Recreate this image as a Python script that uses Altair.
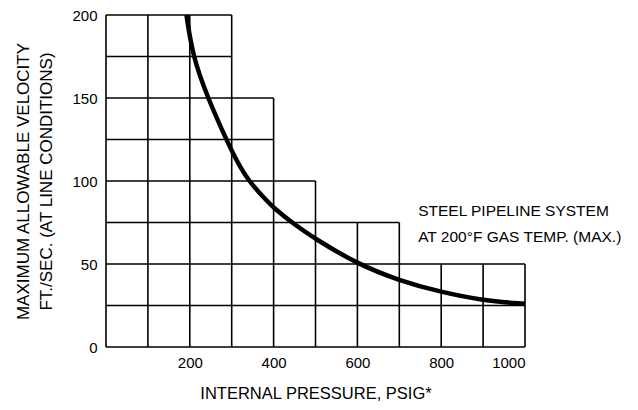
import altair as alt
import pandas as pd

# Curve: maximum allowable velocity vs internal pressure
pressure = [192, 207, 243, 287, 312, 340, 384, 400, 443, 500, 600, 700, 800, 900, 1000]
velocity = [200, 175, 150, 125, 112, 100, 88, 84, 75, 65, 50, 40, 33, 28, 26]

# Stepped grid: horizontal lines (y value, x extent) and vertical lines (x value, y extent)
h_lines_y = [0, 25, 50, 75, 100, 125, 150, 175, 200]
h_lines_end = [1000, 1000, 1000, 700, 500, 400, 400, 300, 300]
v_lines_x = [0, 100, 200, 300, 400, 500, 600, 700, 800, 900, 1000]
v_lines_end = [200, 200, 200, 200, 150, 100, 75, 75, 50, 50, 50]

x_ticks = [200, 400, 600, 800, 1000]
y_ticks = [0, 50, 100, 150, 200]

note_lines = ["STEEL PIPELINE SYSTEM", "AT 200°F GAS TEMP. (MAX.)"]
note_x = [745, 745]
note_y = [82, 66]

FONT = "Liberation Sans"

curve_df = pd.DataFrame({"p": pressure, "v": velocity})
h_df = pd.DataFrame({"y": h_lines_y, "x0": [0] * len(h_lines_y), "x1": h_lines_end})
v_df = pd.DataFrame({"x": v_lines_x, "y0": [0] * len(v_lines_x), "y1": v_lines_end})
note_df = pd.DataFrame({"x": note_x, "y": note_y, "t": note_lines})

xscale = alt.Scale(domain=[0, 1000], nice=False, zero=False)
yscale = alt.Scale(domain=[0, 200], nice=False, zero=False)

xaxis = alt.Axis(
    title="INTERNAL PRESSURE, PSIG*", values=x_ticks, format="d", domain=False,
    ticks=False, grid=False, labelFont=FONT, labelFontSize=15, labelColor="black",
    labelPadding=8, titleFont=FONT, titleFontSize=16.5, titleFontWeight="normal",
    titleColor="black", titlePadding=15,
)
yaxis = alt.Axis(
    title=["MAXIMUM ALLOWABLE VELOCITY", "FT./SEC. (AT LINE CONDITIONS)"],
    values=y_ticks, format="d", domain=False, ticks=False, grid=False,
    labelFont=FONT, labelFontSize=15, labelColor="black", labelPadding=9,
    titleFont=FONT, titleFontSize=17, titleFontWeight="normal",
    titleColor="black", titlePadding=16, titleLineHeight=23,
)

hrules = alt.Chart(h_df).mark_rule(color="black", strokeWidth=1.6).encode(
    x=alt.X("x0:Q", scale=xscale, axis=xaxis),
    x2="x1:Q",
    y=alt.Y("y:Q", scale=yscale, axis=yaxis),
)
vrules = alt.Chart(v_df).mark_rule(color="black", strokeWidth=1.6).encode(
    x=alt.X("x:Q", scale=xscale, axis=xaxis),
    y=alt.Y("y0:Q", scale=yscale, axis=yaxis),
    y2="y1:Q",
)
curve = alt.Chart(curve_df).mark_line(
    color="black", strokeWidth=4.5, interpolate="basis"
).encode(
    x=alt.X("p:Q", scale=xscale, axis=xaxis),
    y=alt.Y("v:Q", scale=yscale, axis=yaxis),
)
notes = alt.Chart(note_df).mark_text(
    align="left", baseline="middle", font=FONT, fontSize=15.5, color="black"
).encode(
    x=alt.X("x:Q", scale=xscale, axis=xaxis),
    y=alt.Y("y:Q", scale=yscale, axis=yaxis),
    text="t:N",
)

chart = alt.layer(hrules, vrules, curve, notes).properties(
    width=419,
    height=332,
    background="white",
    autosize=alt.AutoSizeParams(type="none"),
    padding={"left": 98, "top": 7, "right": 105, "bottom": 55},
).configure_view(strokeWidth=0)

chart.save("out.html", embed_options={"renderer": "svg", "actions": False})
